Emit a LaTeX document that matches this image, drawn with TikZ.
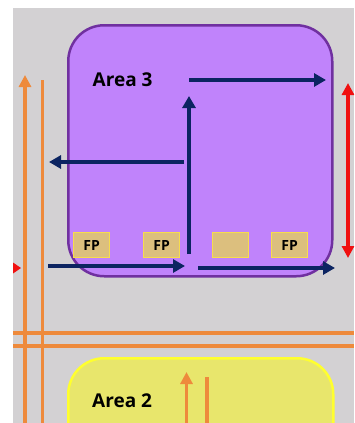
\documentclass[tikz,border=0pt]{standalone}
\usepackage{fontspec}
\setmainfont{Open Sans}
\usetikzlibrary{arrows.meta}
\definecolor{bggray}{HTML}{D3D1D3}
\definecolor{purplefill}{HTML}{C083FB}
\definecolor{purpleline}{HTML}{7030A0}
\definecolor{navy}{HTML}{0C2461}
\definecolor{orangeline}{HTML}{EE8A3C}
\definecolor{yellowfill}{HTML}{E8E66C}
\definecolor{yellowline}{HTML}{FFFF2E}
\definecolor{fpfill}{HTML}{DCBF7E}
\definecolor{fpline}{HTML}{F7DC4C}
\definecolor{redline}{HTML}{F01010}
\tikzset{
  area/.style={rounded corners=36pt, line width=2.5pt, inner sep=0pt, anchor=north west},
  fpbox/.style={draw=fpline, fill=fpfill, line width=1.2pt, minimum width=36pt, minimum height=25pt, inner sep=0pt, anchor=north west, font=\bfseries\fontsize{14}{16}\selectfont},
  navyarrow/.style={draw=navy, line width=4.2pt, -{Triangle[length=12pt,width=13pt]}},
  orangearrow/.style={draw=orangeline, line width=3.8pt, -{Triangle[length=12pt,width=12pt]}},
  orangeline/.style={draw=orangeline, line width=3.8pt},
  redarrow/.style={draw=redline, line width=3.2pt, {Triangle[length=12pt,width=12pt]}-{Triangle[length=12pt,width=12pt]}},
  arealabel/.style={font=\bfseries\fontsize{19}{21}\selectfont, inner sep=0pt, anchor=west}
}
\begin{document}
\begin{tikzpicture}[x=1pt,y=-1pt]
\clip (0,0) rectangle (354,423);
\fill[white] (0,0) rectangle (354,423);
\fill[bggray] (13,8) rectangle (354,423);
% areas
\node[area, draw=purpleline, fill=purplefill, minimum width=264pt, minimum height=251pt] (area3) at (67,24) {};
\node[area, draw=yellowline, fill=yellowfill, minimum width=265pt, minimum height=130pt] (area2) at (67,357) {};
\node[arealabel] (lbl3) at (92.5,80) {Area 3};
\node[arealabel] (lbl2) at (92,401) {Area 2};
% FP boxes
\node[fpbox] (fp1) at (73,232) {FP};
\node[fpbox] (fp2) at (143,232) {FP};
\node[fpbox] (fp3) at (211.5,232) {};
\node[fpbox] (fp4) at (271,232) {FP};
% orange grid lines
\coordinate (oh1a) at (13,333); \coordinate (oh1b) at (354,333);
\coordinate (oh2a) at (13,346); \coordinate (oh2b) at (354,346);
\draw[orangeline] (oh1a) -- (oh1b);
\draw[orangeline] (oh2a) -- (oh2b);
\coordinate (ov1a) at (25,423); \coordinate (ov1b) at (25,75);
\coordinate (ov2a) at (42.5,423); \coordinate (ov2b) at (42.5,80);
\draw[orangearrow] (ov1a) -- (ov1b);
\draw[orangeline] (ov2a) -- (ov2b);
\coordinate (oy1a) at (186.5,423); \coordinate (oy1b) at (186.5,372);
\coordinate (oy2a) at (207,423); \coordinate (oy2b) at (207,377);
\draw[orangearrow] (oy1a) -- (oy1b);
\draw[orangeline] (oy2a) -- (oy2b);
% red arrows
\coordinate (ra) at (348,83); \coordinate (rb) at (348,258);
\draw[redarrow] (ra) -- (rb);
\coordinate (rl) at (13,268);
\fill[redline] (rl) ++(0,-5.5) -- ++(8,5.5) -- ++(-8,5.5) -- cycle;
% navy arrows
\coordinate (n1a) at (189,80); \coordinate (n1b) at (326,80);
\draw[navyarrow] (n1a) -- (n1b);
\coordinate (n2a) at (189,254); \coordinate (n2b) at (189,96);
\draw[navyarrow] (n2a) -- (n2b);
\coordinate (n3a) at (184,162); \coordinate (n3b) at (49,162);
\draw[navyarrow] (n3a) -- (n3b);
\coordinate (n4a) at (48,266); \coordinate (n4b) at (185,266);
\draw[navyarrow] (n4a) -- (n4b);
\coordinate (n5a) at (198,268); \coordinate (n5b) at (335,268);
\draw[navyarrow] (n5a) -- (n5b);
\end{tikzpicture}
\end{document}
